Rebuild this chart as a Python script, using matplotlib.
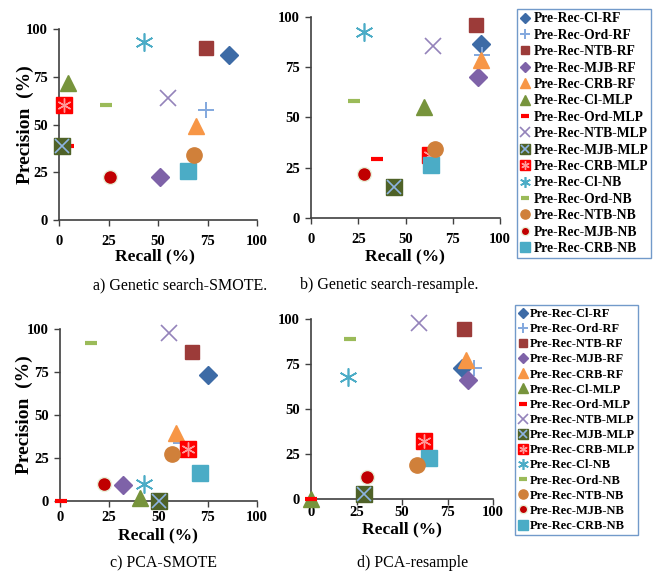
import matplotlib.pyplot as plt
import numpy as np

plt.rcParams['font.family'] = ['Liberation Serif', 'DejaVu Serif']

names = ['Pre-Rec-Cl-RF', 'Pre-Rec-Ord-RF', 'Pre-Rec-NTB-RF', 'Pre-Rec-MJB-RF',
         'Pre-Rec-CRB-RF', 'Pre-Rec-Cl-MLP', 'Pre-Rec-Ord-MLP', 'Pre-Rec-NTB-MLP',
         'Pre-Rec-MJB-MLP', 'Pre-Rec-CRB-MLP', 'Pre-Rec-Cl-NB', 'Pre-Rec-Ord-NB',
         'Pre-Rec-NTB-NB', 'Pre-Rec-MJB-NB', 'Pre-Rec-CRB-NB']

# recall / precision per panel, same order as names
recall_a = [86, 74, 74, 51, 69, 4.5, 4.5, 55, 1.7, 2.5, 43, 23.5, 68, 26, 65]
prec_a = [86.5, 57.5, 90, 22.5, 49, 71.5, 39, 64, 38.5, 60, 93, 60, 34, 22.5, 25.5]

recall_b = [90, 90.5, 87.5, 88.5, 90, 60, 35, 64.5, 44, 63, 28, 22.5, 65.5, 28, 63.5]
prec_b = [86.5, 81, 96, 70, 78.5, 55, 29.5, 85.5, 15.5, 31.5, 92.5, 58, 34.5, 22, 26.5]

recall_c = [75, 61.5, 67, 32, 59, 40.5, 0.3, 55.5, 50.5, 65, 42.5, 15.5, 57, 22.5, 71]
prec_c = [73.5, 33.5, 86.5, 9.5, 39.5, 2, 0, 97.5, 0, 30.5, 10, 92, 27.5, 10, 16.5]

recall_d = [83, 89.5, 84, 86.5, 85, 0, 0, 59.5, 29, 62, 20.5, 21.5, 58, 30.5, 65]
prec_d = [72.5, 73, 94.5, 66, 77, 0, 0, 98, 3, 32, 68, 89, 19, 12, 22.5]

ticks = [0, 25, 50, 75, 100]

styles = [
    dict(marker='D', color='#3D6BA6', ms=9),
    dict(marker='+', color='#82A8DE', ms=12, mew=1.4),
    dict(marker='s', color='#9C3B39', ms=10),
    dict(marker='D', color='#7E62A8', ms=9),
    dict(marker='^', color='#F79646', ms=11),
    dict(marker='^', color='#77943C', ms=11),
    dict(marker='_', color='#FF0000', ms=9, mew=3),
    dict(marker='x', color='#9483BA', ms=11, mew=1.2),
    dict(marker='s', color='#4F6228', ms=11),
    dict(marker='s', color='#FF0000', ms=11),
    dict(marker=(6, 2, 0), color='#4BACC6', ms=13, mew=1.2),
    dict(marker='_', color='#9BBB59', ms=9, mew=3),
    dict(marker='o', color='#D0803A', ms=11),
    dict(marker='o', color='#C00000', ms=10),
    dict(marker='s', color='#4BACC6', ms=11),
]
overlays = {8: dict(marker='x', color='#8DB4E2', ms=10, mew=1.2),
            9: dict(marker=(6, 2, 0), color='#FF9999', ms=10, mew=1.0)}

fig = plt.figure(figsize=(6.57, 5.74), dpi=100)

# rect, x data, y data, y label?, x tick pad, ylabel x position
panels = [
    ([0.0898, 0.6167, 0.3014, 0.3328], recall_a, prec_a, True, 7, -0.126),
    ([0.4734, 0.6202, 0.2877, 0.3502], recall_b, prec_b, False, 7, None),
    ([0.0913, 0.1272, 0.2998, 0.2997], recall_c, prec_c, True, 3, -0.137),
    ([0.4734, 0.1307, 0.2770, 0.3136], recall_d, prec_d, False, 1, None),
]

handles = None
for rect, rx, py, show_ylab, xpad, ylx in panels:
    ax = fig.add_axes(rect)
    hs = []
    for i, st in enumerate(styles):
        st = dict(st)
        col = st.pop('color')
        z = 4 if i == 12 else 3
        ec = '#E8F0D8' if i == 13 else col
        h, = ax.plot([rx[i]], [py[i]], linestyle='none', color=col,
                     markeredgecolor=ec, clip_on=False, zorder=z, **st)
        if i in overlays:
            ov = dict(overlays[i])
            oc = ov.pop('color')
            h2, = ax.plot([rx[i]], [py[i]], linestyle='none', color=oc,
                          clip_on=False, zorder=z, **ov)
            hs.append((h, h2))
        else:
            hs.append(h)
    handles = hs
    ax.set_xlim(0, 100)
    ax.set_ylim(0, 100)
    ax.set_xticks(ticks)
    ax.set_yticks(ticks)
    for s in ['top', 'right']:
        ax.spines[s].set_visible(False)
    for s in ['left', 'bottom']:
        ax.spines[s].set_color('#404040')
        ax.spines[s].set_linewidth(1.2)
    ax.tick_params(length=4, width=1, color='#404040', labelsize=10.5)
    ax.tick_params(axis='x', pad=xpad)
    ax.tick_params(axis='y', pad=4)
    for lab in ax.get_xticklabels() + ax.get_yticklabels():
        lab.set_fontweight('bold')
    if show_ylab:
        ax.set_ylabel('Precision  (%)', fontsize=14, fontweight='bold')
        ax.yaxis.set_label_coords(ylx, 0.5)

fig.text(155 / 657, 1 - 256 / 574, 'Recall (%)', ha='center', va='center',
         fontsize=12.5, fontweight='bold')
fig.text(405 / 657, 1 - 256 / 574, 'Recall (%)', ha='center', va='center',
         fontsize=12.5, fontweight='bold')
fig.text(158 / 657, 1 - 535 / 574, 'Recall (%)', ha='center', va='center',
         fontsize=12.5, fontweight='bold')
fig.text(402 / 657, 1 - 529 / 574, 'Recall (%)', ha='center', va='center',
         fontsize=12.5, fontweight='bold')

fig.text(180 / 657, 1 - 285 / 574, 'a) Genetic search-SMOTE.', ha='center', va='center', fontsize=11.5)
fig.text(389 / 657, 1 - 285 / 574, 'b) Genetic search-resample.', ha='center', va='center', fontsize=11.5)
fig.text(164 / 657, 1 - 563 / 574, 'c) PCA-SMOTE', ha='center', va='center', fontsize=11.5)
fig.text(413 / 657, 1 - 563 / 574, 'd) PCA-resample', ha='center', va='center', fontsize=11.5)

for anchor, fs, sp in [((517 / 657, 1 - 9 / 574), 9.8, 0.25), ((515 / 657, 1 - 305 / 574), 9.0, 0.25)]:
    leg = fig.legend(handles, names, loc='upper left', bbox_to_anchor=anchor,
                     prop={'weight': 'bold', 'size': fs}, markerscale=0.6,
                     handlelength=0.7, handletextpad=0.25, labelspacing=sp,
                     borderpad=0.25, borderaxespad=0, fancybox=False)
    leg.get_frame().set_edgecolor('#4F81BD')
    leg.get_frame().set_linewidth(1.0)

fig.savefig('out.png', dpi=100)
